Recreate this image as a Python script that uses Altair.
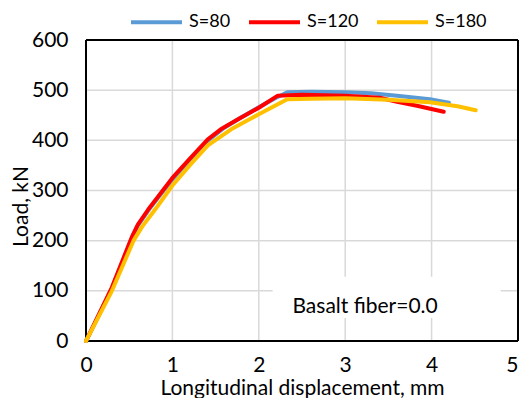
import altair as alt
import pandas as pd

series_names = ["S=80", "S=120", "S=180"]
series_colors = ["#5B9BD5", "#FF0000", "#FFC000"]

s80_x = [0, 0.3, 0.53, 0.6, 0.72, 0.84, 1.0, 1.2, 1.4, 1.6, 1.8, 2.0, 2.2, 2.33, 2.6, 3.0, 3.3, 3.6, 3.98, 4.2]
s80_y = [0, 105, 205, 230, 260, 287, 322, 360, 398, 425, 446, 466, 485, 496, 497, 496, 494, 489, 482, 475]

s120_x = [0, 0.3, 0.53, 0.6, 0.72, 0.84, 1.0, 1.2, 1.41, 1.56, 1.76, 2.0, 2.22, 2.5, 3.0, 3.4, 3.6, 3.83, 4.14]
s120_y = [0, 107, 207, 232, 262, 289, 325, 363, 402, 422, 442, 465, 489, 491, 489, 485, 477, 469, 457]

s180_x = [0, 0.3, 0.55, 0.65, 0.8, 1.0, 1.2, 1.41, 1.68, 2.0, 2.22, 2.33, 2.6, 3.0, 3.5, 3.98, 4.3, 4.51]
s180_y = [0, 100, 200, 228, 262, 310, 350, 390, 422, 452, 472, 482, 483, 484, 481, 476, 468, 460]

x_ticks = [0, 1, 2, 3, 4, 5]
y_ticks = [0, 100, 200, 300, 400, 500, 600]

annotation_text = "Basalt fiber=0.0"

rows = []
for name, xs, ys in zip(series_names, [s80_x, s120_x, s180_x], [s80_y, s120_y, s180_y]):
    for i, (xv, yv) in enumerate(zip(xs, ys)):
        rows.append({"series": name, "disp": xv, "load": yv, "order": i})
df = pd.DataFrame(rows)

FONT = "Lato"

xscale = alt.Scale(domain=[x_ticks[0], x_ticks[-1]], nice=False)
yscale = alt.Scale(domain=[y_ticks[0], y_ticks[-1]], nice=False)

lines = alt.Chart(df).mark_line(strokeWidth=4, strokeCap="round", strokeJoin="round").encode(
    x=alt.X("disp:Q", scale=xscale,
            axis=alt.Axis(title="Longitudinal displacement, mm", values=x_ticks,
                          format="d", grid=False,
                          domain=False, ticks=False, labelPadding=13, labelFlush=False,
                          labelAlign={"condition": {"test": "datum.value == 5", "value": "right"},
                                      "value": "center"},
                          labelFontSize=21, titleFontSize=21, labelFont=FONT, titleFont=FONT,
                          labelColor="#000000", titleColor="#000000", titleFontWeight="normal",
                          titleY=53, titleBaseline="alphabetic")),
    y=alt.Y("load:Q", scale=yscale,
            axis=alt.Axis(title="Load, kN", values=y_ticks, grid=False,
                          domain=False, ticks=False, labelPadding=18, labelFlush=False,
                          labelFontSize=21, titleFontSize=21, labelFont=FONT, titleFont=FONT,
                          labelColor="#000000", titleColor="#000000", titleFontWeight="normal",
                          titleX=-65, titleY=166, titleAngle=-90, titleAlign="center",
                          titleBaseline="middle")),
    color=alt.Color("series:N", scale=alt.Scale(domain=series_names, range=series_colors),
                    sort=series_names,
                    legend=alt.Legend(title=None, orient="none", direction="horizontal",
                                      legendX=43, legendY=-45.5, symbolType="stroke",
                                      symbolSize=2600, symbolStrokeWidth=4,
                                      labelFontSize=18, labelFont=FONT, labelColor="#000000",
                                      columnPadding=10, labelOffset=5, padding=0)),
    order=alt.Order("order:Q"),
    detail="series:N",
)

# gridlines drawn as rules from the tick arrays
grid_x = alt.Chart(pd.DataFrame({"gx": x_ticks})).mark_rule(color="#D9D9D9", strokeWidth=1.5).encode(
    x=alt.X("gx:Q", scale=xscale)
)
grid_y = alt.Chart(pd.DataFrame({"gy": y_ticks})).mark_rule(color="#D9D9D9", strokeWidth=1.5).encode(
    y=alt.Y("gy:Q", scale=yscale)
)

ann_df = pd.DataFrame({"x1": [2.16], "x2": [4.8], "y1": [46], "y2": [128],
                       "tx": [3.23], "ty": [68], "label": [annotation_text]})

box = alt.Chart(ann_df).mark_rect(fill="white").encode(
    x=alt.X("x1:Q", scale=xscale), x2="x2:Q",
    y=alt.Y("y1:Q", scale=yscale), y2="y2:Q",
)
txt = alt.Chart(ann_df).mark_text(font=FONT, fontSize=21, color="#000000",
                                  align="center", baseline="middle").encode(
    x=alt.X("tx:Q", scale=xscale), y=alt.Y("ty:Q", scale=yscale), text="label:N"
)

frame_x = pd.DataFrame({"fx": [x_ticks[0], x_ticks[-1]]})
frame_y = pd.DataFrame({"fy": [y_ticks[0], y_ticks[-1]]})
vframe = alt.Chart(frame_x).mark_rule(color="#000000", strokeWidth=2).encode(
    x=alt.X("fx:Q", scale=xscale)
)
hframe = alt.Chart(frame_y).mark_rule(color="#000000", strokeWidth=2).encode(
    y=alt.Y("fy:Q", scale=yscale)
)

chart = alt.layer(grid_x, grid_y, box, vframe, hframe, lines, txt).properties(
    width=432, height=301,
    padding={"left": 78, "top": 32, "right": 1, "bottom": 57},
    autosize=alt.AutoSizeParams(type="none"),
).configure_view(strokeWidth=0)

chart.save("out.html", embed_options={"renderer": "svg", "actions": False})
